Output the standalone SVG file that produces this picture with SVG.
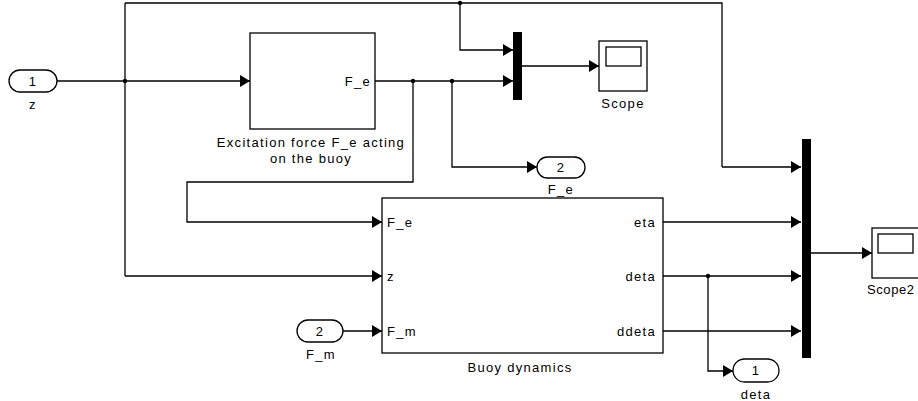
<svg xmlns="http://www.w3.org/2000/svg" width="918" height="401" viewBox="0 0 918 401">
<defs>
<marker id="arr" markerUnits="userSpaceOnUse" markerWidth="10" markerHeight="12" refX="10" refY="6" orient="auto">
<path d="M0,0 L10,6 L0,12 z" fill="#000"/>
</marker>
<style>
.blk{fill:#fff;stroke:#000;stroke-width:1.3}
.mux{fill:#000;stroke:none}
.w{fill:none;stroke:#000;stroke-width:1.3}
.wa{fill:none;stroke:#000;stroke-width:1.3;marker-end:url(#arr)}
.dot{fill:#000}
text{font-family:"Liberation Sans",Arial,sans-serif;font-size:13px;letter-spacing:1.3px;fill:#000}
.m{text-anchor:middle}
.e{text-anchor:end}
</style>
</defs>
<rect width="918" height="401" fill="#fff"/>

<g id="connectors">
<path class="w" d="M57,81 H125"/>
<path class="wa" d="M125,81 H250"/>
<path class="w" d="M125,3 V276"/>
<path class="wa" d="M125,276 H382"/>
<path class="w" d="M125,3 H722 V167"/>
<path class="wa" d="M722,167 H801"/>
<path class="wa" d="M460,3 V50 H513"/>
<path class="wa" d="M375,81 H513"/>
<path class="wa" d="M452,81 V167 H537"/>
<path class="wa" d="M413,81 V182 H187 V222 H382"/>
<path class="wa" d="M522,66 H599"/>
<path class="wa" d="M343,331 H382"/>
<path class="wa" d="M663,222 H801"/>
<path class="wa" d="M663,276 H801"/>
<path class="wa" d="M663,331 H801"/>
<path class="wa" d="M708,276 V371 H733"/>
<path class="wa" d="M811,253 H872"/>
<circle class="dot" cx="125" cy="81" r="2.2"/>
<circle class="dot" cx="460" cy="3" r="2.2"/>
<circle class="dot" cx="413" cy="81" r="2.2"/>
<circle class="dot" cx="452" cy="81" r="2.2"/>
<circle class="dot" cx="708" cy="276" r="2.2"/>
</g>

<g id="in_z">
<rect class="blk" x="9" y="70" width="48" height="22" rx="11"/>
<text class="m" x="33" y="86">1</text>
<text class="m" x="33" y="109">z</text>
</g>

<g id="excitation">
<rect class="blk" x="250" y="33" width="125" height="96"/>
<text class="e" x="371" y="86">F_e</text>
<text class="m" x="311" y="147">Excitation force F_e acting</text>
<text class="m" x="311" y="163">on the buoy</text>
</g>

<g id="mux1">
<rect class="mux" x="513" y="32" width="9" height="68"/>
</g>

<g id="scope">
<rect class="blk" x="599" y="41" width="48" height="50"/>
<rect class="blk" x="606" y="47" width="35" height="19"/>
<text class="m" x="623" y="108">Scope</text>
</g>

<g id="out_Fe">
<rect class="blk" x="537" y="157" width="48" height="21" rx="10.5"/>
<text class="m" x="561" y="172">2</text>
<text class="m" x="561" y="194">F_e</text>
</g>

<g id="buoy">
<rect class="blk" x="382" y="198" width="281" height="155"/>
<text x="387" y="227">F_e</text>
<text x="387" y="281">z</text>
<text x="387" y="336">F_m</text>
<text class="e" x="656" y="227">eta</text>
<text class="e" x="656" y="281">deta</text>
<text class="e" x="656" y="336">ddeta</text>
<text class="m" x="520" y="372">Buoy dynamics</text>
</g>

<g id="in_Fm">
<rect class="blk" x="297" y="320" width="46" height="22" rx="11"/>
<text class="m" x="320" y="336">2</text>
<text class="m" x="321" y="359">F_m</text>
</g>

<g id="mux2">
<rect class="mux" x="802" y="139" width="9" height="219"/>
</g>

<g id="scope2">
<rect class="blk" x="872" y="228" width="48" height="50"/>
<rect class="blk" x="878" y="234" width="35" height="19"/>
<text x="867" y="294" style="letter-spacing:0.6px">Scope2</text>
</g>

<g id="out_deta">
<rect class="blk" x="733" y="359" width="46" height="23" rx="11.5"/>
<text class="m" x="756" y="375">1</text>
<text class="m" x="756" y="399">deta</text>
</g>
</svg>
